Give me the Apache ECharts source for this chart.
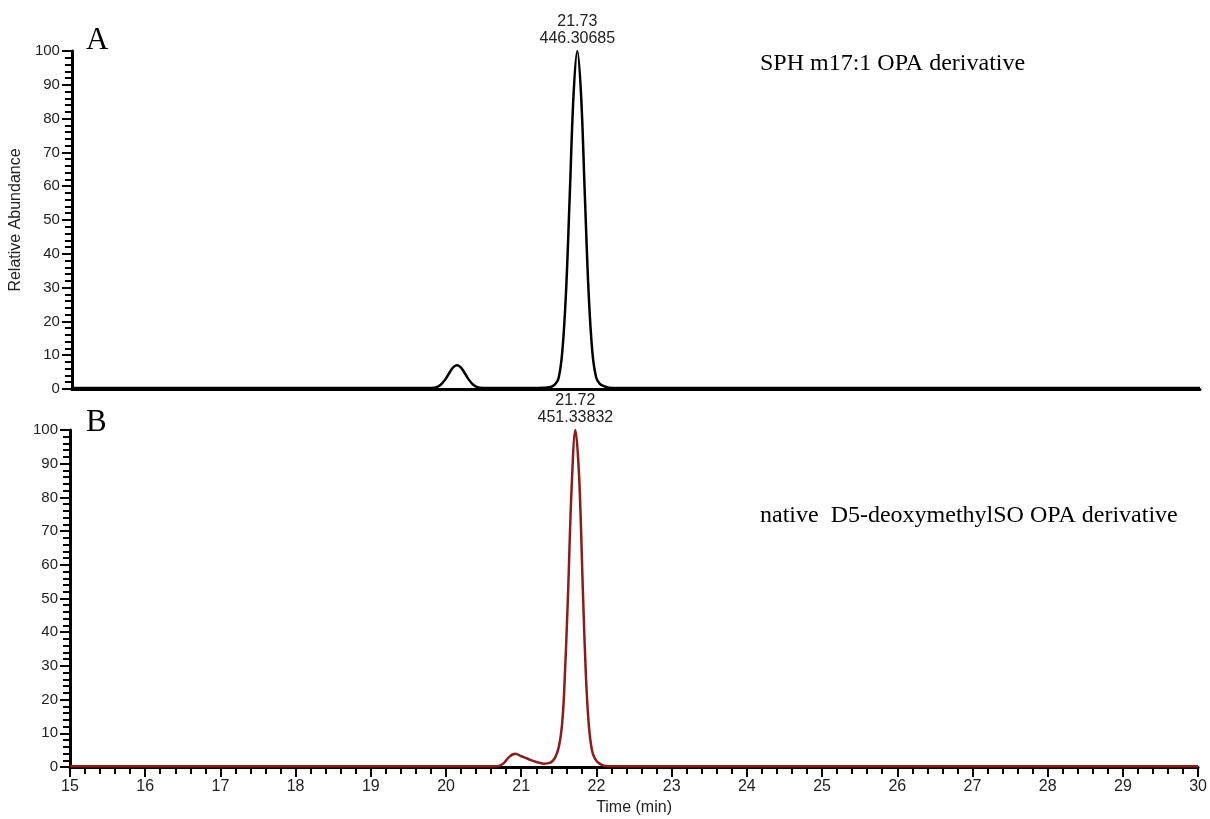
<!DOCTYPE html>
<html>
<head>
<meta charset="utf-8">
<title>SPH m17:1 / D5-deoxymethylSO OPA derivative</title>
<script src="https://cdn.jsdelivr.net/npm/echarts@6/dist/echarts.min.js"></script>
<style>
  html, body { margin: 0; padding: 0; background: #fff; }
  #chart { width: 1210px; height: 819px; }
</style>
</head>
<body>
<div id="chart"></div>
<script>
// chromatogram values: [time (min), relative abundance]
const traceA = [
  [15, 0.3], [17, 0.3], [19, 0.3], [19.6, 0.3], [19.82, 0.4], [19.9, 1.2], [19.97, 3],
  [20.03, 5.2], [20.08, 6.6], [20.12, 7], [20.16, 6.6], [20.21, 5.2], [20.27, 3],
  [20.34, 1.2], [20.42, 0.4], [20.7, 0.3], [21.0, 0.3], [21.2, 0.3], [21.35, 0.5],
  [21.42, 1.3], [21.47, 3.1], [21.52, 10.9], [21.57, 28.7], [21.62, 57.5], [21.67, 87],
  [21.72, 100], [21.77, 87], [21.82, 57.5], [21.87, 28.7], [21.92, 11], [21.97, 3.5],
  [22.02, 1.5], [22.08, 0.8], [22.14, 0.4], [22.4, 0.3],
  [23, 0.3], [25, 0.3], [27, 0.3], [30, 0.3]
]
const traceB = [
  [15, 0.2], [17, 0.2], [19, 0.2], [20.4, 0.2], [20.68, 0.2], [20.76, 1.0], [20.84, 3.0],
  [20.92, 3.9], [21.0, 3.2], [21.1, 2.3], [21.2, 1.5], [21.3, 1.0], [21.38, 1.2],
  [21.45, 2.8], [21.5, 6], [21.54, 12], [21.57, 22], [21.62, 50], [21.67, 83],
  [21.72, 100], [21.77, 86], [21.82, 52], [21.86, 27], [21.9, 12], [21.94, 5],
  [21.98, 2.5], [22.04, 1], [22.12, 0.3],
  [22.4, 0.2], [23, 0.2], [25, 0.2], [27, 0.2], [30, 0.2]
]
// peak annotations: retention time and m/z
const peakA = { time: 21.72, height: 100, rt: '21.73', mz: '446.30685' }
const peakB = { time: 21.72, height: 100, rt: '21.72', mz: '451.33832' }
const panelTitles = ['SPH m17:1 OPA derivative', 'native  D5-deoxymethylSO OPA derivative']
const panelLetters = ['A', 'B']

const serif = '"Liberation Serif", "Times New Roman", serif'
const sans = '"Liberation Sans", Arial, sans-serif'

function xAxisFor(idx, showLabels) {
  return {
    type: 'value',
    gridIndex: idx,
    min: 15,
    max: 30,
    interval: 1,
    axisLine: { show: true, onZero: false, lineStyle: { color: '#000', width: 3 } },
    axisTick: { show: showLabels, length: 10, lineStyle: { color: '#000', width: 2 } },
    minorTick: { show: showLabels, splitNumber: 5, length: 7, lineStyle: { color: '#000', width: 2 } },
    axisLabel: { show: showLabels, fontSize: 16, color: '#222', fontFamily: sans, margin: 12 },
    splitLine: { show: false },
    name: showLabels ? 'Time (min)' : '',
    nameLocation: 'middle',
    nameGap: 33,
    nameTextStyle: { fontSize: 16, color: '#222', fontFamily: sans }
  }
}

function yAxisFor(idx, name) {
  return {
    type: 'value',
    gridIndex: idx,
    min: 0,
    max: 100,
    interval: 10,
    axisLine: { show: true, lineStyle: { color: '#000', width: 3 } },
    axisTick: { show: true, length: 10, lineStyle: { color: '#000', width: 2 } },
    minorTick: { show: true, splitNumber: 5, length: 7, lineStyle: { color: '#000', width: 2 } },
    axisLabel: { fontSize: 15, color: '#222', fontFamily: sans, margin: 12 },
    splitLine: { show: false },
    name: name,
    nameLocation: 'middle',
    nameGap: 43,
    nameTextStyle: { fontSize: 16, color: '#222', fontFamily: sans }
  }
}

function peakMark(p) {
  return {
    symbol: 'circle',
    symbolSize: 0,
    silent: true,
    data: [{ coord: [p.time, p.height] }],
    label: {
      show: true,
      position: 'top',
      distance: 4,
      formatter: p.rt + '\n' + p.mz,
      fontSize: 16,
      lineHeight: 17,
      color: '#222',
      fontFamily: sans
    }
  }
}

const cs = echarts.init(document.getElementById('chart'))
const option = {
  animation: false,
  backgroundColor: '#fff',
  title: [
    { text: panelLetters[0], left: 81, top: 20, textStyle: { fontFamily: serif, fontSize: 31, fontWeight: 'normal', color: '#000' } },
    { text: panelLetters[1], left: 81, top: 402, textStyle: { fontFamily: serif, fontSize: 31, fontWeight: 'normal', color: '#000' } },
    { text: panelTitles[0], left: 755, top: 47, textStyle: { fontFamily: serif, fontSize: 24, fontWeight: 'normal', color: '#000' } },
    { text: panelTitles[1], left: 755, top: 499, textStyle: { fontFamily: serif, fontSize: 24, fontWeight: 'normal', color: '#000' } }
  ],
  grid: [
    { left: 70, right: 10, top: 51, height: 338 },
    { left: 70, right: 10, top: 430, height: 337 }
  ],
  xAxis: [xAxisFor(0, false), xAxisFor(1, true)],
  yAxis: [yAxisFor(0, 'Relative Abundance'), yAxisFor(1, '')],
  series: [
    {
      type: 'line',
      xAxisIndex: 0,
      yAxisIndex: 0,
      data: traceA,
      symbol: 'none',
      smooth: 0.35,
      lineStyle: { color: '#000', width: 2.5 },
      markPoint: peakMark(peakA)
    },
    {
      type: 'line',
      xAxisIndex: 1,
      yAxisIndex: 1,
      data: traceB,
      symbol: 'none',
      smooth: 0.35,
      lineStyle: { color: '#8b1c1c', width: 2.5 },
      markPoint: peakMark(peakB)
    }
  ]
}
cs.setOption(option)
</script>
</body>
</html>
